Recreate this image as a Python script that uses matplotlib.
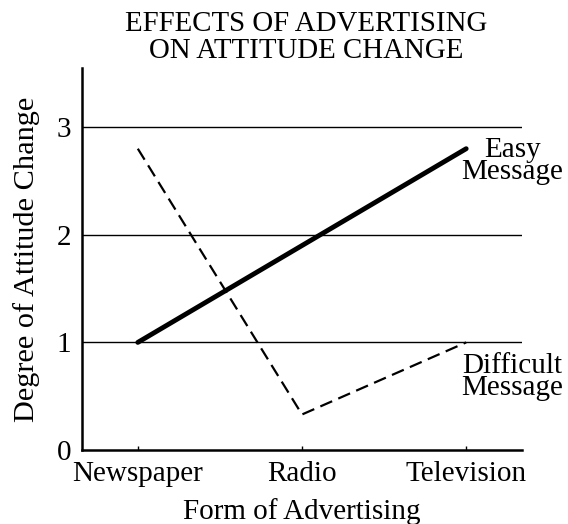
import matplotlib
matplotlib.use("Agg")
import matplotlib.pyplot as plt

categories = ["Newspaper", "Radio", "Television"]
easy_values = [1.0, 1.9, 2.8]
difficult_values = [2.8, 0.33, 1.0]
y_ticks = [0, 1, 2, 3]
y_tick_labels = ["0", "1", "2", "3"]

plt.rcParams["font.family"] = ["Liberation Serif", "DejaVu Serif"]
FS = 21

fig = plt.figure(figsize=(5.68, 5.24), dpi=100)
ax = fig.add_axes([82/568, 1-450/524, (522-82)/568, (450-68)/524])

x = list(range(len(categories)))
ax.plot(x, easy_values, color="black", lw=3.5, solid_capstyle="round", zorder=3)
ax.plot(x, difficult_values, color="black", lw=1.6, ls=(0, (5.8, 3.0)), zorder=3)

ax.set_xlim(-0.34, 2.34)
ax.set_ylim(0, 3.55)

for yv in y_ticks[1:]:
    ax.axhline(yv, color="black", lw=1.0, zorder=1)

ax.set_xticks(x)
ax.set_xticklabels(categories, fontsize=FS)
ax.set_yticks(y_ticks)
ax.set_yticklabels(y_tick_labels, fontsize=FS)
ax.tick_params(axis="x", direction="in", length=3, width=1, pad=8)
ax.tick_params(axis="y", length=0, pad=8)
for lbl in ax.get_yticklabels():
    lbl.set_va("center_baseline")

for s in ["top", "right"]:
    ax.spines[s].set_visible(False)
ax.spines["left"].set_linewidth(1.8)
ax.spines["bottom"].set_linewidth(1.8)

ax.set_xlabel("Form of Advertising", fontsize=FS, labelpad=8)
ax.set_ylabel("Degree of Attitude Change", fontsize=21.8, labelpad=12)
ax.set_title("EFFECTS OF ADVERTISING\nON ATTITUDE CHANGE", fontsize=20.8,
             linespacing=1.05, pad=7, x=0.509)

ax.text(2.28, 2.69, "Easy\nMessage", fontsize=FS, ha="center", va="center",
        linespacing=0.8, clip_on=False)
ax.text(2.28, 0.68, "Difficult\nMessage", fontsize=FS, ha="center", va="center",
        linespacing=0.8, clip_on=False)

fig.savefig("out.png", dpi=100)
